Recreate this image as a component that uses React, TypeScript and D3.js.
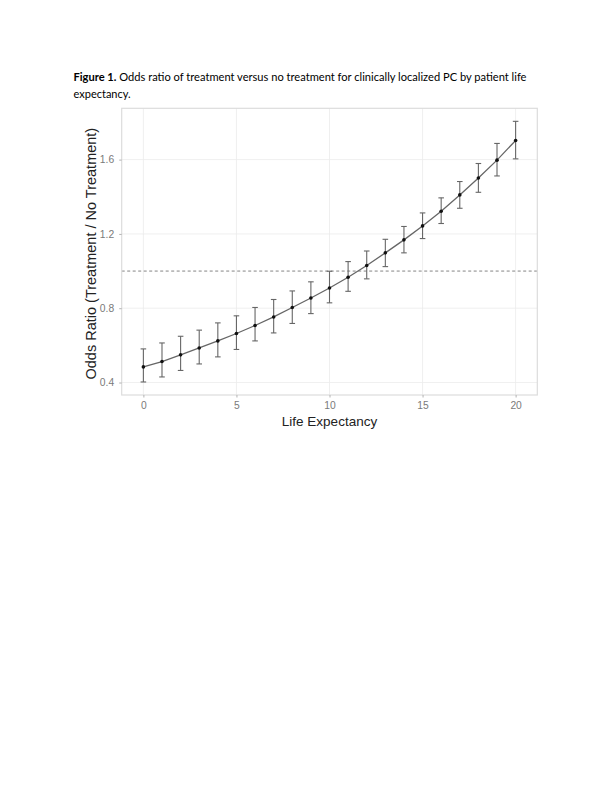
import * as d3 from "d3";
import { useRef, useEffect } from "react";

// life expectancy (years) and odds ratio with 95% CI
const lifeExpectancy = [0, 1, 2, 3, 4, 5, 6, 7, 8, 9, 10, 11, 12, 13, 14, 15, 16, 17, 18, 19, 20];
const oddsRatio = [0.484, 0.513, 0.549, 0.586, 0.624, 0.664, 0.707, 0.753, 0.804, 0.855, 0.909, 0.967, 1.03, 1.098, 1.168, 1.243, 1.322, 1.41, 1.501, 1.597, 1.703];
const ciLower = [0.403, 0.43, 0.465, 0.5, 0.538, 0.578, 0.624, 0.667, 0.718, 0.771, 0.829, 0.891, 0.958, 1.024, 1.098, 1.175, 1.256, 1.338, 1.424, 1.512, 1.604];
const ciUpper = [0.581, 0.613, 0.649, 0.682, 0.721, 0.759, 0.804, 0.847, 0.893, 0.942, 0.999, 1.051, 1.108, 1.171, 1.24, 1.313, 1.394, 1.482, 1.579, 1.687, 1.806];
const xTicks = [0, 5, 10, 15, 20];
const yTicks = [0.4, 0.8, 1.2, 1.6];
const referenceLine = 1.0;

export default function App({
  width = 612,
  height = 792,
  panelLeft = 121.7,
  panelRight = 537.3,
  panelTop = 108.3,
  panelBottom = 395,
}: {
  width?: number
  height?: number
  panelLeft?: number
  panelRight?: number
  panelTop?: number
  panelBottom?: number
}) {
  const gx = useRef<SVGGElement | null>(null);
  const gy = useRef<SVGGElement | null>(null);

  const capHalf = 0.15;
  // ggplot-style 5% expansion around the data (incl. errorbar caps)
  const xMin = d3.min(lifeExpectancy)! - capHalf;
  const xMax = d3.max(lifeExpectancy)! + capHalf;
  const xPad = (xMax - xMin) * 0.05;
  const yMin = d3.min(ciLower)!;
  const yMax = d3.max(ciUpper)!;
  const yPad = (yMax - yMin) * 0.05;

  const x = d3.scaleLinear([xMin - xPad, xMax + xPad], [panelLeft, panelRight]);
  const y = d3.scaleLinear([yMin - yPad, yMax + yPad], [panelBottom, panelTop]);

  const data = lifeExpectancy.map((le, i) => ({ le, or: oddsRatio[i], lo: ciLower[i], hi: ciUpper[i] }));
  const line = d3.line<{ le: number, or: number }>(d => x(d.le), d => y(d.or));

  useEffect(() => {
    if (gx.current) {
      const g = d3.select(gx.current)
        .call(d3.axisBottom(x).tickValues(xTicks).tickSize(2.5).tickPadding(4.5).tickFormat(d3.format("d")));
      g.select(".domain").remove();
      g.selectAll(".tick line").attr("stroke", "#b3b3b3");
      g.selectAll(".tick text")
        .attr("fill", "#7a7a7a")
        .attr("font-size", 10.3)
        .attr("font-family", "Liberation Sans, Arial, sans-serif");
    }
    if (gy.current) {
      const g = d3.select(gy.current)
        .call(d3.axisLeft(y).tickValues(yTicks).tickSize(2.5).tickPadding(5).tickFormat(d3.format(".1f")));
      g.select(".domain").remove();
      g.selectAll(".tick line").attr("stroke", "#b3b3b3");
      g.selectAll(".tick text")
        .attr("fill", "#7a7a7a")
        .attr("font-size", 10.3)
        .attr("font-family", "Liberation Sans, Arial, sans-serif");
    }
  }, [gx, gy, x, y]);

  const capW = x(capHalf) - x(0);

  return (
    <svg width={width} height={height} style={{ position: "absolute", left: 0, top: 0, background: "white" }}>
      <text x={73.5} y={81} fontFamily="Lato, Carlito, sans-serif" fontSize={11} fill="#000" textLength={453} lengthAdjust="spacingAndGlyphs">
        <tspan fontWeight="bold">Figure 1.</tspan> Odds ratio of treatment versus no treatment for clinically localized PC by patient life
      </text>
      <text x={73.5} y={98} fontFamily="Lato, Carlito, sans-serif" fontSize={11} fill="#000">expectancy.</text>

      {/* grid */}
      <g stroke="#ebebeb" strokeWidth={0.8}>
        {xTicks.map(t => <line key={"gx" + t} x1={x(t)} x2={x(t)} y1={panelTop} y2={panelBottom} />)}
        {yTicks.map(t => <line key={"gy" + t} x1={panelLeft} x2={panelRight} y1={y(t)} y2={y(t)} />)}
      </g>

      {/* reference line OR = 1 */}
      <line x1={panelLeft} x2={panelRight} y1={y(referenceLine)} y2={y(referenceLine)}
        stroke="#777" strokeWidth={0.9} strokeDasharray="3,2.5" />

      {/* error bars */}
      <g stroke="#666" strokeWidth={1.1} fill="none">
        {data.map(d => (
          <g key={d.le}>
            <line x1={x(d.le)} x2={x(d.le)} y1={y(d.lo)} y2={y(d.hi)} />
            <line x1={x(d.le) - capW} x2={x(d.le) + capW} y1={y(d.lo)} y2={y(d.lo)} />
            <line x1={x(d.le) - capW} x2={x(d.le) + capW} y1={y(d.hi)} y2={y(d.hi)} />
          </g>
        ))}
      </g>

      <path d={line(data) as string} fill="none" stroke="#666" strokeWidth={1.3} />

      <g fill="#111">
        {data.map(d => <circle key={d.le} cx={x(d.le)} cy={y(d.or)} r={1.8} />)}
      </g>

      {/* panel border */}
      <rect x={panelLeft} y={panelTop} width={panelRight - panelLeft} height={panelBottom - panelTop}
        fill="none" stroke="#dcdcdc" strokeWidth={1.2} />

      <g ref={gx} transform={`translate(0,${panelBottom})`} />
      <g ref={gy} transform={`translate(${panelLeft},0)`} />

      <text x={(panelLeft + panelRight) / 2} y={426} textAnchor="middle"
        fontFamily="Liberation Sans, Arial, sans-serif" fontSize={13.5} fill="#222">Life Expectancy</text>
      <text transform={`translate(96,${(panelTop + panelBottom) / 2 + 2}) rotate(-90)`} textAnchor="middle"
        fontFamily="Liberation Sans, Arial, sans-serif" fontSize={14.5} fill="#222">Odds Ratio (Treatment / No Treatment)</text>
    </svg>
  );
}
